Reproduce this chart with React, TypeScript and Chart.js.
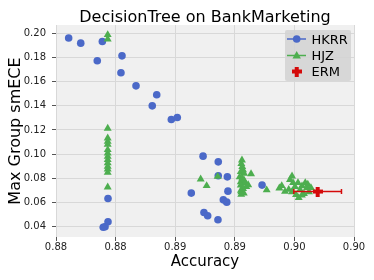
import { useEffect, useRef } from "react";
import { Chart, registerables } from "chart.js";

Chart.register(...registerables);

// ---- data ----
const hkrrAcc = [
  0.88085, 0.88166, 0.88311, 0.88277, 0.88443, 0.88436, 0.88537, 0.88676, 0.88646, 0.88774, 0.88814,
  0.88349, 0.88349, 0.88329, 0.88317,
  0.88987, 0.89089, 0.89089, 0.8915, 0.88908, 0.89154, 0.89123, 0.89146, 0.88993, 0.89018, 0.89087, 0.89383,
];
const hkrrEce = [
  0.1959, 0.1917, 0.1931, 0.1771, 0.1812, 0.1672, 0.1564, 0.149, 0.1399, 0.1286, 0.1302,
  0.0633, 0.044, 0.04, 0.0395,
  0.0983, 0.0936, 0.0821, 0.0812, 0.0678, 0.0694, 0.0622, 0.0603, 0.0517, 0.049, 0.0457, 0.0744,
];

const hjzAcc = [
  0.88347, 0.88347,
  0.88347, 0.88347, 0.88347, 0.88347, 0.88347, 0.88347, 0.88347, 0.88347, 0.88347, 0.88347, 0.88347, 0.88347, 0.88347,
  0.88971, 0.89011, 0.89085, 0.89309, 0.89414,
  0.89248, 0.89244, 0.8925, 0.89255, 0.8924, 0.89262, 0.89233, 0.8925, 0.89262, 0.8924, 0.8927, 0.8924, 0.89277,
  0.89255, 0.89241, 0.89244, 0.8926, 0.89243, 0.8929,
  0.89499, 0.89515, 0.89537, 0.89584, 0.8957, 0.89591, 0.89562, 0.89604, 0.89584, 0.89611, 0.89629, 0.89638,
  0.89651, 0.89673, 0.89685, 0.89664, 0.89698, 0.89711, 0.89624, 0.8969, 0.8965,
];
const hjzEce = [
  0.1986, 0.195,
  0.1213, 0.1132, 0.1104, 0.108, 0.1036, 0.1008, 0.098, 0.0953, 0.0926, 0.0898, 0.0876, 0.0848, 0.0727,
  0.0793, 0.0738, 0.0815, 0.0837, 0.0703,
  0.095, 0.092, 0.0895, 0.087, 0.0854, 0.084, 0.0812, 0.08, 0.0785, 0.077, 0.076, 0.0744, 0.073,
  0.0715, 0.07, 0.0688, 0.0678, 0.0666, 0.0745,
  0.0719, 0.0738, 0.0691, 0.0818, 0.0788, 0.0763, 0.0707, 0.073, 0.0688, 0.0664, 0.0639, 0.0705,
  0.0736, 0.0763, 0.0722, 0.0672, 0.0688, 0.0722, 0.0763, 0.075, 0.066,
];

const ermAcc = [0.89756];
const ermEce = [0.0691];
const ermAccErr = [0.0016];

const xTicks = [0.88, 0.884, 0.888, 0.892, 0.896, 0.9];
const yTicks = [0.04, 0.06, 0.08, 0.1, 0.12, 0.14, 0.16, 0.18, 0.2];
const xRange = [0.88, 0.9];
const yRange = [0.0315, 0.2067];

const titleText = "DecisionTree on BankMarketing";
const xLabel = "Accuracy";
const yLabel = "Max Group smECE";
const seriesNames = ["HKRR", "HJZ", "ERM"];

const BLUE = "#4b69c8";
const GREEN = "#4dae4f";
const RED = "#d40a0a";
const FONT = "'DejaVu Sans', sans-serif";

function makePlus(size: number, arm: number): HTMLCanvasElement {
  const c = document.createElement("canvas");
  c.width = size;
  c.height = size;
  const g = c.getContext("2d")!;
  g.fillStyle = RED;
  const o = (size - arm) / 2;
  g.fillRect(o, 0, arm, size);
  g.fillRect(0, o, size, arm);
  return c;
}

export default function App() {
  const ref = useRef<HTMLCanvasElement>(null);

  useEffect(() => {
    document.body.style.margin = "0";
    const canvas = ref.current!;
    const plus = makePlus(10, 4);

    const decor = {
      id: "decor",
      beforeDraw(chart: any) {
        const { ctx, chartArea: a } = chart;
        ctx.save();
        ctx.fillStyle = "#f0f0f0";
        ctx.fillRect(a.left, a.top, a.right - a.left, a.bottom - a.top);
        ctx.restore();
      },
      beforeDatasetDraw(chart: any, args: any) {
        if (args.index !== 2) return;
        const { ctx } = chart;
        const xs = chart.scales.x;
        const ys = chart.scales.y;
        ctx.save();
        ctx.strokeStyle = RED;
        ctx.lineWidth = 1.5;
        for (let i = 0; i < ermAcc.length; i++) {
          const x0 = xs.getPixelForValue(ermAcc[i] - ermAccErr[i]);
          const x1 = xs.getPixelForValue(ermAcc[i] + ermAccErr[i]);
          const y = ys.getPixelForValue(ermEce[i]);
          ctx.beginPath();
          ctx.moveTo(x0, y);
          ctx.lineTo(x1, y);
          ctx.moveTo(x0, y - 2.5);
          ctx.lineTo(x0, y + 2.5);
          ctx.moveTo(x1, y - 2.5);
          ctx.lineTo(x1, y + 2.5);
          ctx.stroke();
        }
        ctx.restore();
      },
      afterDraw(chart: any) {
        const { ctx, chartArea: a } = chart;
        ctx.save();
        // title
        ctx.fillStyle = "#000";
        ctx.font = `16px ${FONT}`;
        ctx.textAlign = "center";
        ctx.textBaseline = "alphabetic";
        ctx.fillText(titleText, (a.left + a.right) / 2, 22);

        // legend
        const bx = 285, by = 30, bw = 66, bh = 51;
        ctx.fillStyle = "rgba(212,212,212,0.9)";
        ctx.beginPath();
        ctx.moveTo(bx + 2, by);
        ctx.lineTo(bx + bw - 2, by);
        ctx.quadraticCurveTo(bx + bw, by, bx + bw, by + 2);
        ctx.lineTo(bx + bw, by + bh - 2);
        ctx.quadraticCurveTo(bx + bw, by + bh, bx + bw - 2, by + bh);
        ctx.lineTo(bx + 2, by + bh);
        ctx.quadraticCurveTo(bx, by + bh, bx, by + bh - 2);
        ctx.lineTo(bx, by + 2);
        ctx.quadraticCurveTo(bx, by, bx + 2, by);
        ctx.fill();

        const rows = [39, 55, 71.5];
        const mx = 296.7;
        // HKRR
        ctx.strokeStyle = BLUE;
        ctx.lineWidth = 1.5;
        ctx.beginPath();
        ctx.moveTo(287, rows[0]);
        ctx.lineTo(306, rows[0]);
        ctx.stroke();
        ctx.fillStyle = BLUE;
        ctx.beginPath();
        ctx.arc(mx, rows[0], 3.8, 0, Math.PI * 2);
        ctx.fill();
        // HJZ
        ctx.strokeStyle = GREEN;
        ctx.beginPath();
        ctx.moveTo(287, rows[1] + 0.5);
        ctx.lineTo(306, rows[1] + 0.5);
        ctx.stroke();
        ctx.fillStyle = GREEN;
        ctx.beginPath();
        ctx.moveTo(mx, rows[1] - 4);
        ctx.lineTo(mx + 4.2, rows[1] + 3.5);
        ctx.lineTo(mx - 4.2, rows[1] + 3.5);
        ctx.closePath();
        ctx.fill();
        // ERM
        ctx.drawImage(plus, mx - 5, rows[2] - 5);

        ctx.fillStyle = "#000";
        ctx.font = `13px ${FONT}`;
        ctx.textAlign = "left";
        ctx.textBaseline = "alphabetic";
        ctx.fillText(seriesNames[0], 311.5, 43.5);
        ctx.fillText(seriesNames[1], 311.5, 59.5);
        ctx.fillText(seriesNames[2], 311.5, 76);
        ctx.restore();
      },
    };

    const chart = new Chart(canvas, {
      type: "scatter",
      data: {
        datasets: [
          {
            label: seriesNames[0],
            data: hkrrAcc.map((x, i) => ({ x, y: hkrrEce[i] })),
            pointStyle: "circle",
            pointRadius: 3.8,
            backgroundColor: BLUE,
            borderWidth: 0,
            order: 2,
          },
          {
            label: seriesNames[1],
            data: hjzAcc.map((x, i) => ({ x, y: hjzEce[i] })),
            pointStyle: "triangle",
            pointRadius: 4.6,
            backgroundColor: GREEN,
            borderWidth: 0,
            order: 1,
          },
          {
            label: seriesNames[2],
            data: ermAcc.map((x, i) => ({ x, y: ermEce[i] })),
            pointStyle: plus as any,
            pointRadius: 5,
            backgroundColor: RED,
            borderWidth: 0,
            order: 0,
          },
        ],
      },
      options: {
        responsive: false,
        animation: false,
        devicePixelRatio: 1,
        layout: { padding: { top: 25, right: 20, left: 0, bottom: 0 } },
        plugins: {
          legend: { display: false },
          title: { display: false },
          tooltip: { enabled: false },
        },
        scales: {
          x: {
            type: "linear",
            min: xRange[0],
            max: xRange[1],
            afterBuildTicks: (s: any) => {
              s.ticks = xTicks.map((v) => ({ value: v }));
            },
            afterFit: (s: any) => {
              s.height = 43;
            },
            ticks: {
              callback: (v: any) => Number(v).toFixed(2),
              font: { family: FONT, size: 10 },
              color: "#222",
              padding: 0,
              maxRotation: 0,
              autoSkip: false,
            },
            grid: { color: "#d8d8d8", tickColor: "#555", tickLength: 4, lineWidth: 1 },
            border: { display: false },
            title: {
              display: true,
              text: xLabel,
              font: { family: FONT, size: 15 },
              color: "#000",
              padding: { top: 0, bottom: 9 },
            },
          },
          y: {
            type: "linear",
            min: yRange[0],
            max: yRange[1],
            afterBuildTicks: (s: any) => {
              s.ticks = yTicks.map((v) => ({ value: v }));
            },
            afterFit: (s: any) => {
              s.width = 56;
            },
            ticks: {
              callback: (v: any) => Number(v).toFixed(2),
              font: { family: FONT, size: 10 },
              color: "#222",
              padding: 6,
              autoSkip: false,
            },
            grid: { color: "#d8d8d8", tickColor: "#555", tickLength: 4, lineWidth: 1 },
            border: { display: false },
            title: {
              display: true,
              text: yLabel,
              font: { family: FONT, size: 16 },
              color: "#000",
              padding: { top: 6, bottom: 0 },
            },
          },
        },
      },
      plugins: [decor],
    });

    return () => chart.destroy();
  }, []);

  return (
    <div style={{ position: "fixed", left: 0, top: 0, width: 374, height: 280 }}>
      <canvas ref={ref} width={374} height={280} style={{ width: 374, height: 280, display: "block" }} />
    </div>
  );
}
